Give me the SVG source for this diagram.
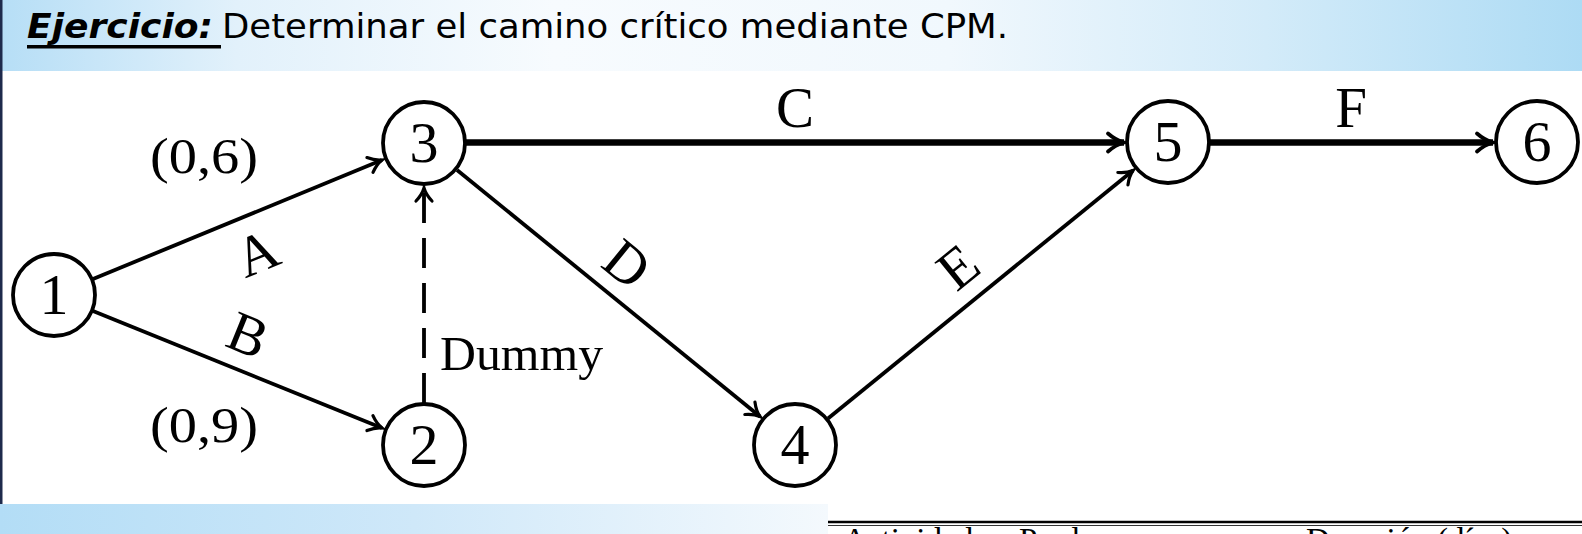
<svg xmlns="http://www.w3.org/2000/svg" width="1582" height="534" viewBox="0 0 1582 534">
<defs>
<linearGradient id="gTop" x1="0" y1="0" x2="1582" y2="0" gradientUnits="userSpaceOnUse">
<stop offset="0" stop-color="#b6def6"/>
<stop offset="0.15" stop-color="#e2f1fb"/>
<stop offset="0.35" stop-color="#f7fbfe"/>
<stop offset="0.6" stop-color="#f1f8fd"/>
<stop offset="0.8" stop-color="#d3ebf9"/>
<stop offset="1" stop-color="#addbf4"/>
</linearGradient>
<linearGradient id="gBot" x1="0" y1="0" x2="828" y2="0" gradientUnits="userSpaceOnUse">
<stop offset="0" stop-color="#b3ddf6"/>
<stop offset="0.5" stop-color="#cfe8f9"/>
<stop offset="1" stop-color="#f4f9fd"/>
</linearGradient>
<marker id="arr" markerUnits="userSpaceOnUse" markerWidth="30" markerHeight="30" refX="0" refY="0" viewBox="-15 -15 30 30" orient="auto" overflow="visible">
<path d="M -13 -8 C -8.5 -3.7, -4.5 -1.3, 0 0 C -4.5 1.3, -8.5 3.7, -13 8" fill="none" stroke="#000" stroke-width="3.2" stroke-linecap="round"/>
</marker>
<marker id="arrT" markerUnits="userSpaceOnUse" markerWidth="30" markerHeight="30" refX="0" refY="0" viewBox="-15 -15 30 30" orient="auto" overflow="visible">
<path d="M -16 -9 C -10.5 -4.2, -5.5 -1.6, 0 0 C -5.5 1.6, -10.5 4.2, -16 9" fill="none" stroke="#000" stroke-width="3.8" stroke-linecap="round"/>
</marker>
</defs>
<style>
.node circle { fill: #fff; stroke: #000; stroke-width: 3.8; }
.node text { font-family: "Liberation Serif", "DejaVu Serif", serif; font-size: 58px; text-anchor: middle; fill: #000; }
.edge { fill: none; stroke: #000; stroke-width: 3.8; marker-end: url(#arr); }
.thick { stroke-width: 6.5; marker-end: url(#arrT); }
.dash { stroke-dasharray: 30 15; }
.lbl { font-family: "Liberation Serif", "DejaVu Serif", serif; font-size: 57px; fill: #000; text-anchor: middle; }
.pair { font-family: "Liberation Serif", "DejaVu Serif", serif; font-size: 51px; fill: #000; text-anchor: middle; }
.tbl { font-family: "Liberation Serif", "DejaVu Serif", serif; font-size: 33px; fill: #000; }
</style>

<rect x="0" y="0" width="1582" height="534" fill="#fff"/>
<rect x="0" y="0" width="1582" height="71" fill="url(#gTop)"/>
<rect x="0" y="504" width="828" height="30" fill="url(#gBot)"/>
<rect x="0" y="0" width="2.5" height="504" fill="#1e2a4c"/>

<g id="title">
<text x="27" y="38" font-family="DejaVu Sans, sans-serif" font-size="34" font-weight="bold" font-style="italic" textLength="186" lengthAdjust="spacingAndGlyphs">Ejercicio:</text>
<rect x="27" y="45" width="194" height="3.5" fill="#000"/>
<text x="222" y="38" font-family="DejaVu Sans, sans-serif" font-size="34" textLength="786" lengthAdjust="spacingAndGlyphs">Determinar el camino crítico mediante CPM.</text>
</g>

<g id="connectors">
<line class="edge" x1="93" y1="279" x2="382" y2="160"/>
<line class="edge" x1="93" y1="311" x2="382" y2="428"/>
<line class="edge dash" x1="424" y1="403" x2="424" y2="188"/>
<line class="edge thick" x1="466" y1="142.5" x2="1124" y2="142.5"/>
<line class="edge" x1="457" y1="170" x2="760" y2="416.5"/>
<line class="edge" x1="828" y1="418.5" x2="1133" y2="170.5"/>
<line class="edge thick" x1="1210" y1="142.5" x2="1493" y2="142.5"/>
</g>

<g id="edge-labels">
<text class="lbl" transform="translate(257,253) rotate(-22.3)" y="19">A</text>
<text class="lbl" transform="translate(248,335) rotate(22.1)" y="19">B</text>
<text class="lbl" x="795" y="127">C</text>
<text class="lbl" transform="translate(627,264) rotate(39.2)" y="19">D</text>
<text class="lbl" transform="translate(958,267) rotate(-39)" y="19">E</text>
<text class="lbl" x="1351" y="127">F</text>
<text class="pair" x="204" y="173" textLength="108" lengthAdjust="spacingAndGlyphs">(0,6)</text>
<text class="pair" x="204" y="442" textLength="108" lengthAdjust="spacingAndGlyphs">(0,9)</text>
<text x="440" y="370" font-family="Liberation Serif, DejaVu Serif, serif" font-size="48" textLength="163" lengthAdjust="spacingAndGlyphs">Dummy</text>
</g>

<g id="n1" class="node"><circle cx="54" cy="295" r="41"/><text x="54" y="314">1</text></g>
<g id="n2" class="node"><circle cx="424" cy="445" r="41"/><text x="424" y="464">2</text></g>
<g id="n3" class="node"><circle cx="424" cy="143" r="41"/><text x="424" y="162">3</text></g>
<g id="n4" class="node"><circle cx="795" cy="445" r="41"/><text x="795" y="464">4</text></g>
<g id="n5" class="node"><circle cx="1168" cy="142" r="41"/><text x="1168" y="161">5</text></g>
<g id="n6" class="node"><circle cx="1537" cy="142" r="41"/><text x="1537" y="161">6</text></g>

<g id="table-top">
<line x1="828" y1="522" x2="1582" y2="522" stroke="#000" stroke-width="2.5"/>
<line x1="828" y1="525.5" x2="1582" y2="525.5" stroke="#333" stroke-width="1"/>
<text class="tbl" x="843" y="551">Actividad</text>
<text class="tbl" x="1019" y="551">Predecesora</text>
<text class="tbl" x="1306" y="551">Duración (días)</text>
</g>
</svg>
